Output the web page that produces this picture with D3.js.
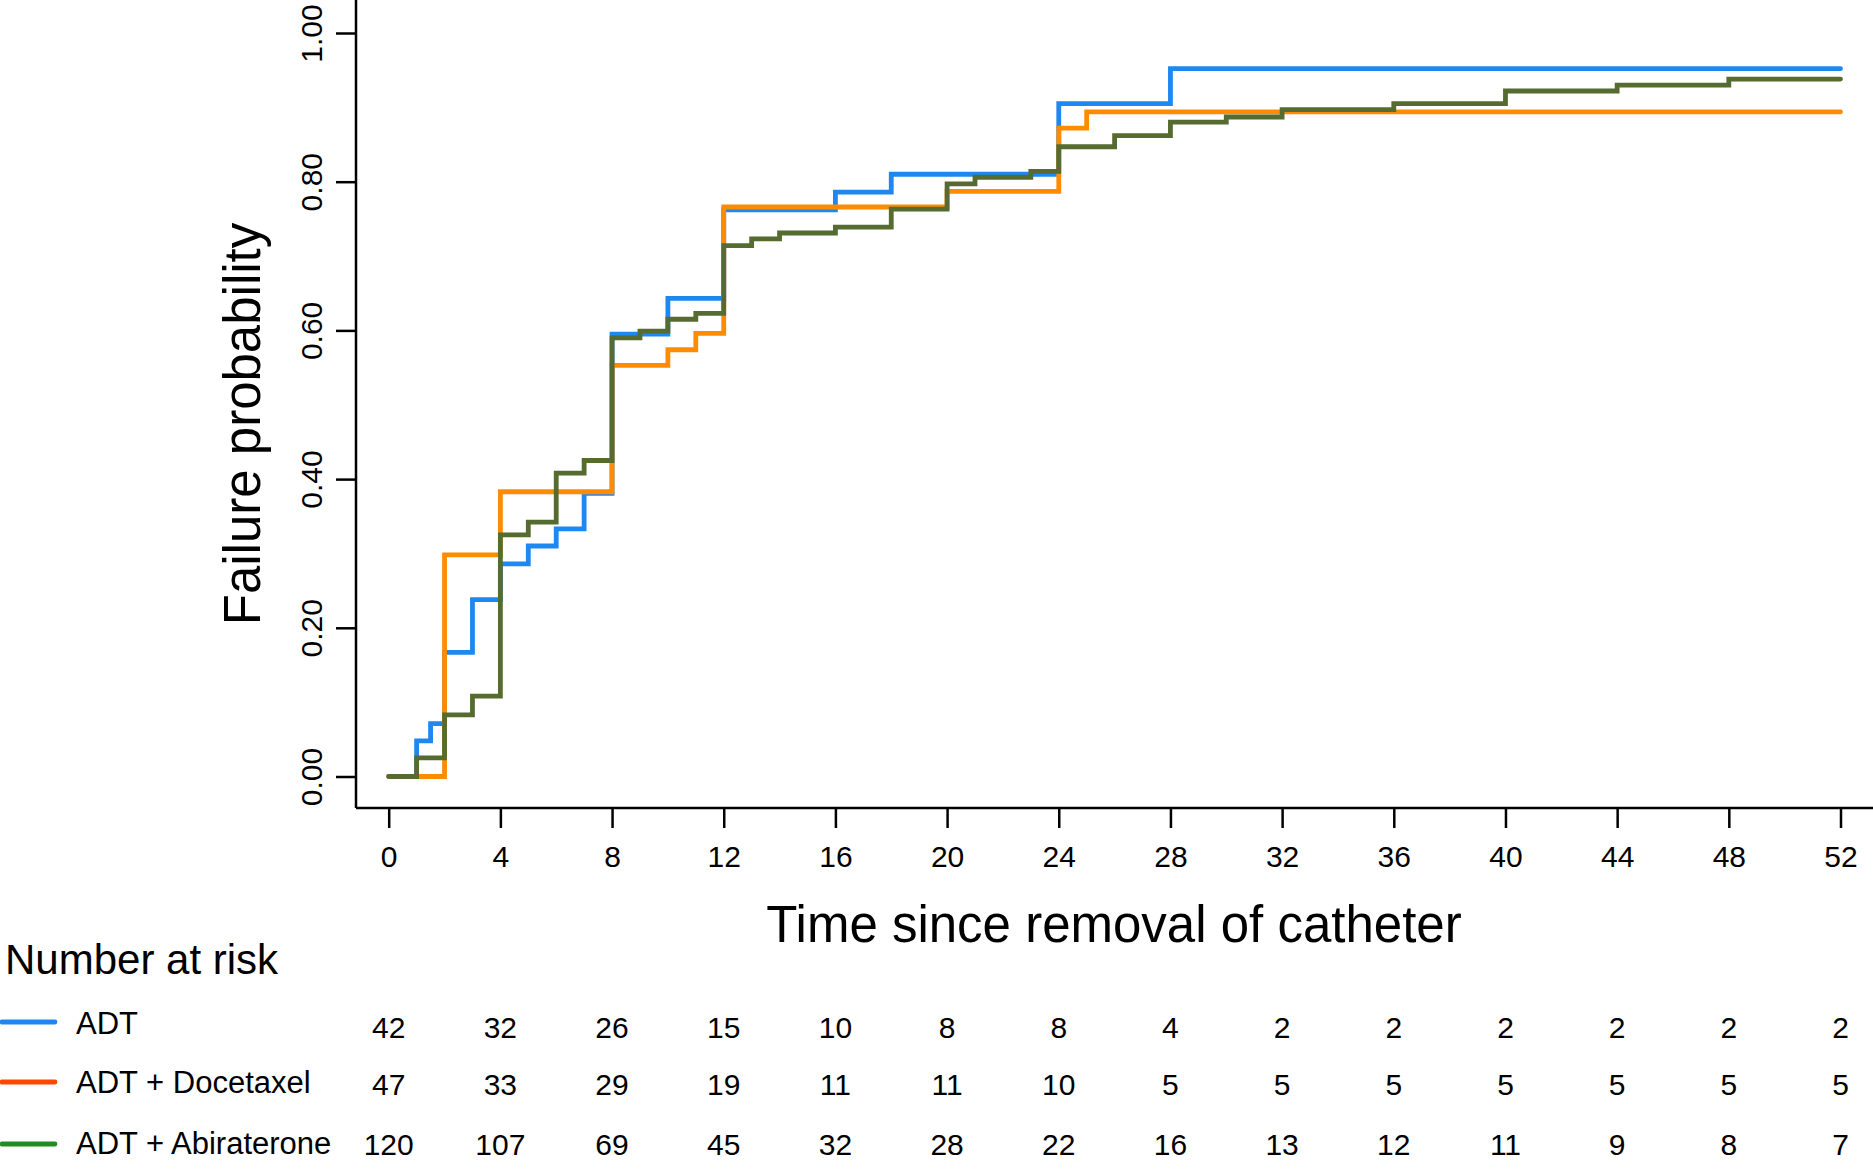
<!DOCTYPE html>
<html>
<head>
<meta charset="utf-8">
<script src="https://cdn.jsdelivr.net/npm/d3@7"></script>
<style>
  body { margin: 0; background: #fff; }
  svg { display: block; font-family: "Liberation Sans", Arial, sans-serif; }
</style>
</head>
<body>
<svg id="drawing_region"></svg>
<script>

// step change points (time in weeks, cumulative failure probability)
const adtTimes = [0, 1, 1.5, 2, 3, 4, 5, 6, 7, 8, 10, 12, 16, 18, 24, 28];
const adtValues = [0, 0.048, 0.071, 0.167, 0.238, 0.286, 0.310, 0.333, 0.381, 0.595, 0.643, 0.762, 0.786, 0.810, 0.905, 0.952];

const docTimes = [0, 2, 4, 8, 10, 11, 12, 20, 24, 25];
const docValues = [0, 0.298, 0.383, 0.553, 0.574, 0.596, 0.766, 0.787, 0.872, 0.894];

const abiTimes = [0, 1, 2, 3, 4, 5, 6, 7, 8, 9, 10, 11, 12, 13, 14, 16, 18, 20, 21, 23, 24, 26, 28, 30, 32, 36, 40, 44, 48];
const abiValues = [0, 0.025, 0.083, 0.108, 0.325, 0.342, 0.408, 0.425, 0.590, 0.599, 0.615, 0.623, 0.714, 0.723, 0.731, 0.739, 0.763, 0.797, 0.806, 0.814, 0.847, 0.862, 0.880, 0.887, 0.897, 0.905, 0.922, 0.930, 0.938];

const endTime = 52;

const xTicks = [0, 4, 8, 12, 16, 20, 24, 28, 32, 36, 40, 44, 48, 52];
const yTicks = [0, 0.2, 0.4, 0.6, 0.8, 1.0];

const groupNames = ['ADT', 'ADT + Docetaxel', 'ADT + Abiraterone'];
const adtRisk = [42, 32, 26, 15, 10, 8, 8, 4, 2, 2, 2, 2, 2, 2];
const docRisk = [47, 33, 29, 19, 11, 11, 10, 5, 5, 5, 5, 5, 5, 5];
const abiRisk = [120, 107, 69, 45, 32, 28, 22, 16, 13, 12, 11, 9, 8, 7];

const curveColors = ['#1E88F0', '#FF8C00', '#556B2F'];
const legendColors = ['#1E88F0', '#FF4500', '#228B22'];

const W = 1873, H = 1169;
const axisX = 356, axisY = 808;

const svg = d3.select('#drawing_region')
    .attr('width', W)
    .attr('height', H);

const xscale = d3.scaleLinear().domain([0, 52]).range([388.7, 1840.5]);
const yscale = d3.scaleLinear().domain([0, 1]).range([776.5, 33]);

// axis lines (L-shaped box)
svg.append('line')
    .attr('x1', axisX).attr('x2', axisX)
    .attr('y1', 0).attr('y2', axisY)
    .attr('stroke', '#000').attr('stroke-width', 2.5);
svg.append('line')
    .attr('x1', axisX).attr('x2', W)
    .attr('y1', axisY).attr('y2', axisY)
    .attr('stroke', '#000').attr('stroke-width', 2.5);

// x axis
const xaxis = d3.axisBottom(xscale)
    .tickValues(xTicks)
    .tickSize(20)
    .tickPadding(18)
    .tickFormat(d3.format('d'));

const xaxis_group = svg.append('g')
    .attr('transform', `translate(0, ${axisY})`)
    .call(xaxis);
xaxis_group.select('.domain').remove();
xaxis_group.selectAll('line').attr('stroke-width', 2.5);
xaxis_group.selectAll('text')
    .attr('font-size', 30)
    .attr('font-family', '"Liberation Sans", Arial, sans-serif')
    .attr('fill', '#000');

// y axis
const yaxis = d3.axisLeft(yscale)
    .tickValues(yTicks)
    .tickSize(20)
    .tickFormat(d3.format('.2f'));

const yaxis_group = svg.append('g')
    .attr('transform', `translate(${axisX}, 0)`)
    .call(yaxis);
yaxis_group.select('.domain').remove();
yaxis_group.selectAll('line').attr('stroke-width', 2.5);
yaxis_group.selectAll('text')
    .attr('transform', 'rotate(-90)')
    .attr('x', 0)
    .attr('y', -34)
    .attr('dy', 0)
    .attr('text-anchor', 'middle')
    .attr('font-size', 30)
    .attr('font-family', '"Liberation Sans", Arial, sans-serif')
    .attr('fill', '#000');

// axis titles
svg.append('text')
    .attr('x', 1114)
    .attr('y', 942)
    .attr('text-anchor', 'middle')
    .attr('font-size', 51)
    .text('Time since removal of catheter');

svg.append('text')
    .attr('transform', 'translate(260, 424) rotate(-90)')
    .attr('text-anchor', 'middle')
    .attr('font-size', 51)
    .text('Failure probability');

// step curves
const series = [
    { times: adtTimes, values: adtValues },
    { times: docTimes, values: docValues },
    { times: abiTimes, values: abiValues }
];

const line = d3.line()
    .x(d => xscale(d[0]))
    .y(d => yscale(d[1]))
    .curve(d3.curveStepAfter);

series.forEach((s, i) => {
    const pts = s.times.map((t, j) => [t, s.values[j]]);
    pts.push([endTime, s.values[s.values.length - 1]]);
    svg.append('path')
        .datum(pts)
        .attr('d', line)
        .attr('fill', 'none')
        .attr('stroke', curveColors[i])
        .attr('stroke-width', 4.8)
        .attr('stroke-linejoin', 'miter')
        .attr('stroke-linecap', 'round');
});

// number at risk table
svg.append('text')
    .attr('x', 5)
    .attr('y', 974)
    .attr('font-size', 42)
    .text('Number at risk');

const riskRows = [adtRisk, docRisk, abiRisk];
const lineYs = [1022, 1082, 1144];
const labelYs = [1034, 1093, 1154];
const numYs = [1038, 1095, 1155];

riskRows.forEach((row, i) => {
    svg.append('line')
        .attr('x1', 2).attr('x2', 55)
        .attr('y1', lineYs[i]).attr('y2', lineYs[i])
        .attr('stroke', legendColors[i])
        .attr('stroke-width', 4.8)
        .attr('stroke-linecap', 'round');

    svg.append('text')
        .attr('x', 76)
        .attr('y', labelYs[i])
        .attr('font-size', 31)
        .text(groupNames[i]);

    svg.selectAll(null)
        .data(row)
        .enter()
        .append('text')
        .attr('x', (d, j) => xscale(xTicks[j]))
        .attr('y', numYs[i])
        .attr('text-anchor', 'middle')
        .attr('font-size', 30)
        .text(d => d);
});

</script>
</body>
</html>
